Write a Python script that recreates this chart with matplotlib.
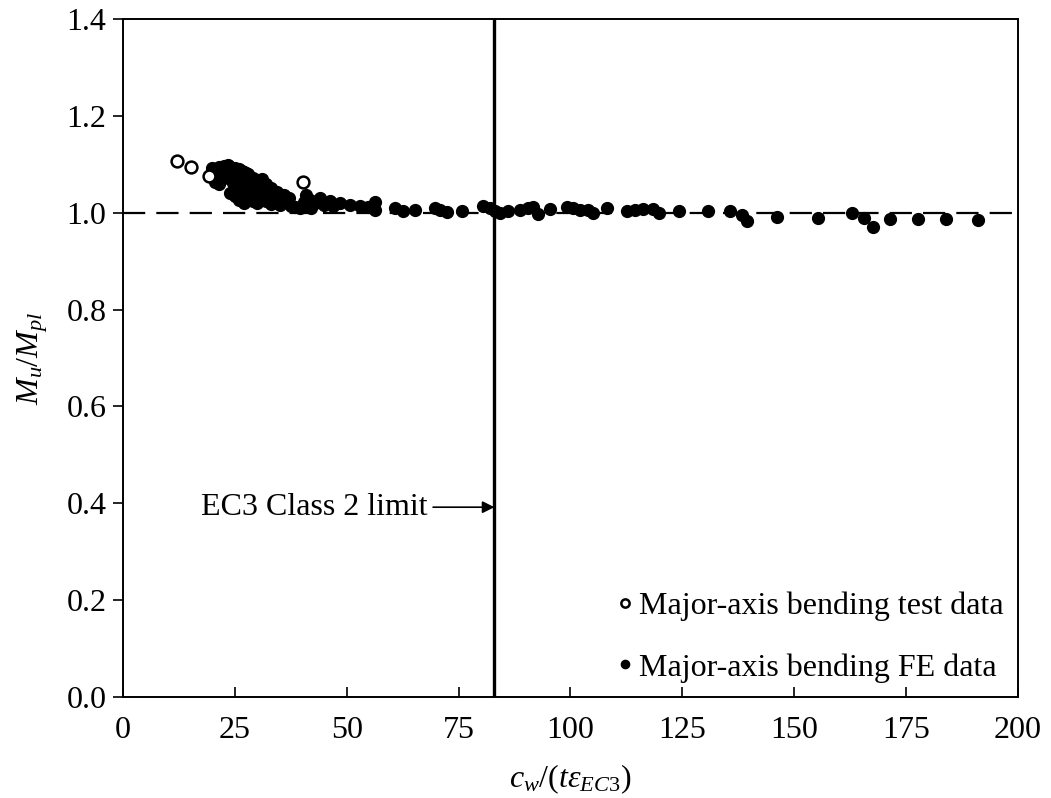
import numpy as np
import matplotlib
matplotlib.use('Agg')
import matplotlib.pyplot as plt
#
# -----------------------------------------------------------------------------
#
""" Data read from the reference chart """
# Major-axis bending test data (open circles)
x_test = [12.0, 15.2, 19.2, 40.2]
y_test = [1.107, 1.094, 1.076, 1.063]

# Major-axis bending FE data (filled circles)
x_fe = [20.0, 21.0, 21.5, 22.0, 22.5, 23.0, 23.5, 24.0, 24.5, 25.0,
        25.5, 26.0, 26.5, 27.0, 27.5, 28.0, 29.0, 30.0, 31.0, 32.0,
        33.0, 20.5, 21.5, 22.5, 23.5, 24.5, 25.5, 26.5, 27.5, 28.5,
        29.5, 30.5, 31.5, 33.0, 34.5, 36.0, 37.0, 24.0, 25.0, 26.0,
        27.0, 28.0, 29.0, 30.0, 31.0, 32.0, 33.0, 34.0, 35.0, 36.0,
        37.5, 38.5, 39.5, 40.5, 41.0, 41.8, 42.0, 43.0, 44.0, 45.0,
        46.3, 47.0, 48.5, 50.7, 52.9, 54.8, 56.3, 56.3, 60.8, 62.6,
        65.3, 69.7, 70.8, 72.3, 75.7, 80.4, 82.0, 83.1, 84.2, 86.0,
        88.7, 90.5, 91.6, 92.7, 95.4, 99.2, 100.6, 102.1, 103.9, 105.0,
        108.2, 112.6, 114.4, 116.2, 118.5, 119.8, 124.2, 130.7, 135.6, 138.3,
        139.4, 146.1, 155.2, 162.9, 165.6, 167.5, 171.3, 177.6, 184.0, 191.0,
        26.0, 28.5, 30.5, 32.5, 34.0, 23.0, 27.0, 29.5]
y_fe = [1.092, 1.088, 1.094, 1.090, 1.096, 1.092, 1.098, 1.094, 1.090, 1.092,
        1.088, 1.090, 1.086, 1.084, 1.082, 1.080, 1.072, 1.068, 1.070, 1.060,
        1.052, 1.064, 1.060, 1.072, 1.076, 1.062, 1.050, 1.070, 1.060, 1.052,
        1.046, 1.042, 1.048, 1.036, 1.044, 1.036, 1.030, 1.040, 1.034, 1.026,
        1.020, 1.032, 1.024, 1.020, 1.030, 1.024, 1.018, 1.022, 1.016, 1.022,
        1.014, 1.012, 1.010, 1.022, 1.036, 1.026, 1.010, 1.020, 1.030, 1.016,
        1.025, 1.014, 1.020, 1.017, 1.014, 1.011, 1.022, 1.005, 1.009, 1.004,
        1.005, 1.010, 1.005, 1.002, 1.004, 1.014, 1.010, 1.004, 0.999, 1.003,
        1.006, 1.010, 1.012, 0.997, 1.008, 1.012, 1.010, 1.005, 1.006, 1.000,
        1.010, 1.003, 1.005, 1.008, 1.008, 0.999, 1.003, 1.003, 1.003, 0.995,
        0.983, 0.991, 0.989, 0.999, 0.989, 0.970, 0.987, 0.987, 0.987, 0.985,
        1.078, 1.066, 1.058, 1.046, 1.030, 1.084, 1.048, 1.034]

class2_limit = 83.0
#
# -----------------------------------------------------------------------------
#
""" Plot """
fs = 23
plt.rcParams.update({'font.family': 'Liberation Serif',
                     'font.size': fs,
                     'mathtext.fontset': 'custom',
                     'mathtext.rm': 'Liberation Serif',
                     'mathtext.it': 'Liberation Serif:italic',
                     'mathtext.bf': 'Liberation Serif:bold'})

fig = plt.figure(figsize=(10.51, 7.98), dpi=100)
ax = fig.add_axes([0.117, 0.1266, 0.8516, 0.8494])

ax.axhline(1.0, color='black', linewidth=1.6, dashes=(10, 5), zorder=1)
ax.axvline(class2_limit, color='black', linewidth=2.4, zorder=1)

ax.plot(x_test, y_test, 'o', markersize=8.5, markerfacecolor='white',
        markeredgecolor='black', markeredgewidth=1.8, linestyle='none',
        label='Major-axis bending test data', zorder=3)
ax.plot(x_fe, y_fe, 'o', markersize=8.5, color='black', linestyle='none',
        label='Major-axis bending FE data', zorder=2)

# Class 2 limit annotation
ax.annotate('', xy=(class2_limit, 0.392), xytext=(69.3, 0.392),
            arrowprops=dict(arrowstyle='-|>', color='black', lw=1.2,
                            mutation_scale=18, shrinkA=0, shrinkB=0))
ax.text(68.0, 0.392, 'EC3 Class 2 limit', ha='right', va='center', fontsize=fs)

ax.set_xlim(0, 200)
ax.set_ylim(0, 1.4)
ax.set_xticks(np.arange(0, 201, 25))
ax.set_yticks(np.arange(0, 1.41, 0.2))
ax.set_yticklabels(['%.1f' % v for v in np.arange(0, 1.41, 0.2)])
ax.tick_params(axis='x', direction='in', length=7, width=1.2, pad=14)
ax.tick_params(axis='y', direction='out', length=7, width=1.2, pad=5)
for s in ax.spines.values():
    s.set_linewidth(1.4)

ax.set_xlabel(r'$c_w/(t\varepsilon_{EC3})$', fontsize=fs, labelpad=12)
ax.set_ylabel(r'$M_u/M_{pl}$', fontsize=fs, labelpad=12)

ax.legend(loc='lower right', frameon=False, handletextpad=0.0,
          labelspacing=1.0, markerscale=0.7, borderaxespad=0.05,
          handlelength=0.9, fontsize=fs)

fig.savefig('out.png', dpi=100)
